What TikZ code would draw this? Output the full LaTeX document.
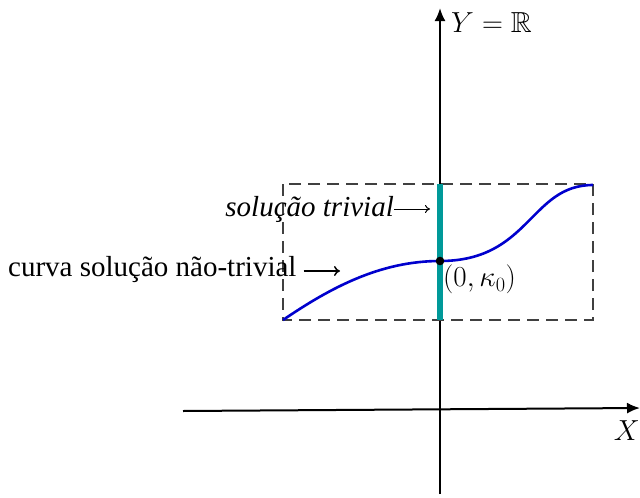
\RequirePackage{fix-cm}
\documentclass[tikz,border=0pt]{standalone}
\usepackage{amssymb}
\usepackage{fontspec}
\setmainfont{Liberation Serif}
\usetikzlibrary{arrows.meta}
\definecolor{tealc}{RGB}{0,153,153}
\definecolor{curveblue}{RGB}{0,0,205}
\begin{document}
\begin{tikzpicture}[x=1pt,y=-1pt,
  axis/.style={line width=2pt,-{Latex[length=13pt,width=11pt]}},
  box/.style={dash pattern=on 12pt off 7pt,line width=1.1pt,black!75},
  lbl/.style={font=\fontsize{29}{34}\selectfont,inner sep=0pt},
  mlbl/.style={font=\fontsize{29}{34}\selectfont,inner sep=0pt},
  thinarrow/.style={-{To[length=5pt,width=8pt]},line width=1pt},
  thickarrow/.style={-{To[length=6pt,width=10pt,line width=1.5pt]},line width=2.6pt}]
\useasboundingbox (0,0) rectangle (640,498);
% axes
\coordinate (xl) at (183,411);
\coordinate (xr) at (640,408);
\coordinate (yb) at (440,494);
\coordinate (yt) at (440,8);
\draw[axis] (xl) -- (xr);
\draw[axis] (yb) -- (yt);
\node[mlbl,anchor=north east] (xlab) at (640,420) {$X$};
\node[mlbl,anchor=west] (ylab) at (451,23) {$Y=\mathbb{R}$};
% dashed box
\draw[box] (283,184) rectangle (593,320);
% trivial solution
\coordinate (tt) at (440,184);
\coordinate (tb) at (440,320);
\draw[tealc,line width=6pt] (tt) -- (tb);
% curve
\coordinate (c0) at (283,320);
\coordinate (c1) at (440,261);
\coordinate (c2) at (593,185);
\draw[curveblue,line width=2.6pt] (c0) .. controls (330,288) and (380,261) .. (c1)
  .. controls (530,261) and (530,185) .. (c2);
\fill (c1) circle (4.3pt);
\node[mlbl,anchor=north west] (k0) at (443,265) {$(0,\kappa_0)$};
% labels
\node[lbl,anchor=east] (triv) at (394,209) {\itshape solução trivial};
\coordinate (trivend) at (430,209);
\draw[thinarrow] (triv.east) -- (trivend);
\node[lbl,anchor=west] (curv) at (8,270) {curva solução não-trivial};
\coordinate (curvend) at (340,271);
\draw[thickarrow] ([xshift=7pt,yshift=-1pt]curv.east) -- (curvend);
\end{tikzpicture}
\end{document}
